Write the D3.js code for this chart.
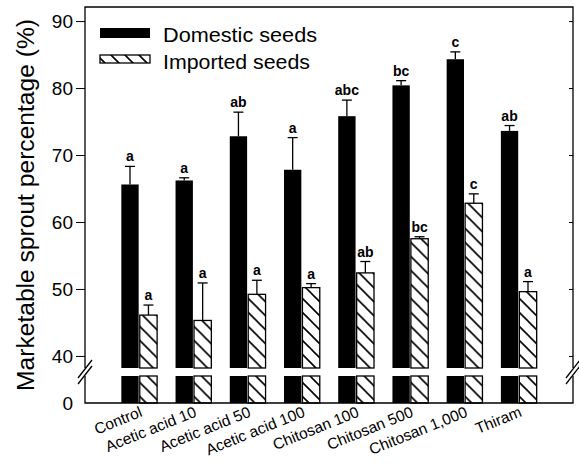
<!DOCTYPE html>
<html>
<head>
<meta charset="utf-8">
<script src="https://cdn.jsdelivr.net/npm/d3@7"></script>
<style>
  body { margin: 0; background: #fff; }
  svg { font-family: "Liberation Sans", Arial, sans-serif; }
</style>
</head>
<body>
<div class="chart"></div>
<script>
// chart data
var treatments = ["Control", "Acetic acid 10", "Acetic acid 50", "Acetic acid 100",
                  "Chitosan 100", "Chitosan 500", "Chitosan 1,000", "Thiram"];
var domestic = [65.6, 66.2, 72.8, 67.8, 75.8, 80.4, 84.3, 73.6];
var domesticErr = [2.7, 0.4, 3.6, 4.8, 2.4, 0.7, 1.1, 0.8];
var domesticLetters = ["a", "a", "ab", "a", "abc", "bc", "c", "ab"];
var imported = [46.1, 45.3, 49.2, 50.2, 52.4, 57.5, 62.8, 49.6];
var importedErr = [1.5, 5.6, 2.1, 0.6, 1.7, 0.3, 1.4, 1.5];
var importedLetters = ["a", "a", "a", "a", "ab", "bc", "c", "a"];
var yTicks = [40, 50, 60, 70, 80, 90];
var seriesNames = ["Domestic seeds", "Imported seeds"];

var svgWidth = 579, svgHeight = 469;
var plotLeft = 85, plotRight = 573, plotTop = 7, plotBottom = 403;
var breakTop = 368, breakBottom = 376;

var svg = d3.select(".chart").append("svg")
  .attr("width", svgWidth)
  .attr("height", svgHeight);

// hatch pattern
var defs = svg.append("defs");
var pat = defs.append("pattern")
  .attr("id", "hatch")
  .attr("patternUnits", "userSpaceOnUse")
  .attr("width", 14)
  .attr("height", 14);
pat.append("rect").attr("width", 14).attr("height", 14).attr("fill", "#fff");
pat.append("path")
  .attr("d", "M-1,-1 L15,15 M-8,6 L1,15 M6,-8 L15,1")
  .attr("stroke", "#000")
  .attr("stroke-width", 1.6);

// scales
var x0 = d3.scaleBand()
  .domain(treatments)
  .range([plotLeft, plotRight])
  .paddingInner(0.34)
  .paddingOuter(0.67);
var x1 = d3.scaleBand()
  .domain(["d", "i"])
  .range([0, x0.bandwidth()])
  .paddingInner(0.06);

var yTop = d3.scaleLinear().domain([38.2, 92.1]).range([breakTop, plotTop]);
var yBot = d3.scaleLinear().domain([0, 4]).range([plotBottom, breakBottom]);

var data = treatments.map(function(t, i) {
  return [
    {t: t, key: "d", v: domestic[i], e: domesticErr[i], l: domesticLetters[i]},
    {t: t, key: "i", v: imported[i], e: importedErr[i], l: importedLetters[i]}
  ];
});

var groups = svg.selectAll("g.grp")
  .data(data)
  .enter().append("g")
  .attr("class", "grp")
  .attr("transform", d => `translate(${x0(d[0].t)},0)`);

var bars = groups.selectAll("g.bar")
  .data(d => d)
  .enter().append("g")
  .attr("class", "bar");

function fillOf(d) { return d.key == "d" ? "#000" : "url(#hatch)"; }

// lower segment
bars.append("rect")
  .attr("x", d => x1(d.key))
  .attr("width", x1.bandwidth())
  .attr("y", yBot(4))
  .attr("height", yBot(0) - yBot(4))
  .attr("fill", fillOf)
  .attr("stroke", "#000")
  .attr("stroke-width", d => d.key == "d" ? 0 : 1.3);

// upper segment
bars.append("rect")
  .attr("x", d => x1(d.key))
  .attr("width", x1.bandwidth())
  .attr("y", d => yTop(d.v))
  .attr("height", d => yTop(38.2) - yTop(d.v))
  .attr("fill", fillOf)
  .attr("stroke", "#000")
  .attr("stroke-width", d => d.key == "d" ? 0 : 1.3);

// error bars (upper only)
bars.append("line")
  .attr("x1", d => x1(d.key) + x1.bandwidth() / 2)
  .attr("x2", d => x1(d.key) + x1.bandwidth() / 2)
  .attr("y1", d => yTop(d.v))
  .attr("y2", d => yTop(d.v + d.e))
  .attr("stroke", "#000")
  .attr("stroke-width", 1.3);
bars.append("line")
  .attr("x1", d => x1(d.key) + x1.bandwidth() / 2 - 5)
  .attr("x2", d => x1(d.key) + x1.bandwidth() / 2 + 5)
  .attr("y1", d => yTop(d.v + d.e))
  .attr("y2", d => yTop(d.v + d.e))
  .attr("stroke", "#000")
  .attr("stroke-width", 1.3);

// letters
bars.append("text")
  .attr("x", d => x1(d.key) + x1.bandwidth() / 2)
  .attr("y", d => yTop(d.v + d.e) - 5)
  .attr("text-anchor", "middle")
  .attr("font-size", "14px")
  .attr("font-weight", "bold")
  .text(d => d.l);

// frame
var frame = svg.append("g").attr("stroke", "#000").attr("stroke-width", 1.3).attr("fill", "none");
frame.append("path").attr("d", `M${plotLeft},${breakTop} V${plotTop} H${plotRight} V${breakTop}`);
frame.append("path").attr("d", `M${plotLeft},${breakBottom} V${plotBottom} H${plotRight} V${breakBottom}`);

// left axis
var yAxis = d3.axisLeft(yTop).tickValues(yTicks).tickSize(9).tickPadding(3).tickSizeOuter(0);
var gy = svg.append("g").attr("transform", `translate(${plotLeft},0)`).call(yAxis);
gy.select(".domain").remove();
gy.selectAll("text").attr("font-size", "19px").attr("font-family", "Liberation Sans, Arial, sans-serif");

var gy0 = svg.append("g").attr("transform", `translate(${plotLeft},0)`)
  .call(d3.axisLeft(yBot).tickValues([0]).tickFormat(d3.format("d")).tickSize(0).tickPadding(12));
gy0.select(".domain").remove();
gy0.selectAll("text").attr("font-size", "19px").attr("font-family", "Liberation Sans, Arial, sans-serif");

// right axis, inside ticks
var gr = svg.append("g").attr("transform", `translate(${plotRight},0)`)
  .call(d3.axisLeft(yTop).tickValues(yTicks).tickSize(4).tickFormat(""));
gr.select(".domain").remove();

// break marks
[plotLeft, plotRight].forEach(function(xp) {
  [-3, 3].forEach(function(off) {
    svg.append("line")
      .attr("x1", xp - 7).attr("y1", (breakTop + breakBottom) / 2 + 9 + off)
      .attr("x2", xp + 7).attr("y2", (breakTop + breakBottom) / 2 - 9 + off)
      .attr("stroke", "#000").attr("stroke-width", 1.3);
  });
});

// x labels
svg.selectAll("text.xl")
  .data(treatments)
  .enter().append("text")
  .attr("class", "xl")
  .attr("text-anchor", "end")
  .attr("font-size", "15.5px")
  .attr("transform", d => `translate(${x0(d) + x0.bandwidth() / 2 + 4},${plotBottom + 13}) rotate(-22)`)
  .text(d => d);

// y title
svg.append("text")
  .attr("transform", `translate(34,${(plotTop + plotBottom) / 2}) rotate(-90)`)
  .attr("text-anchor", "middle")
  .attr("font-size", "23px")
  .attr("textLength", 372)
  .attr("lengthAdjust", "spacingAndGlyphs")
  .text("Marketable sprout percentage (%)");

// legend
var legend = svg.append("g");
legend.append("rect").attr("x", 100).attr("y", 28).attr("width", 50).attr("height", 10).attr("fill", "#000");
legend.append("rect").attr("x", 100).attr("y", 55).attr("width", 50).attr("height", 8)
  .attr("fill", "url(#hatch)").attr("stroke", "#000").attr("stroke-width", 1.3);
legend.selectAll("text.lg")
  .data(seriesNames)
  .enter().append("text")
  .attr("x", 163)
  .attr("y", (d, i) => 42 + i * 27)
  .attr("font-size", "20px")
  .attr("textLength", (d, i) => i == 0 ? 154 : 147)
  .attr("lengthAdjust", "spacingAndGlyphs")
  .text(d => d);
</script>
</body>
</html>
